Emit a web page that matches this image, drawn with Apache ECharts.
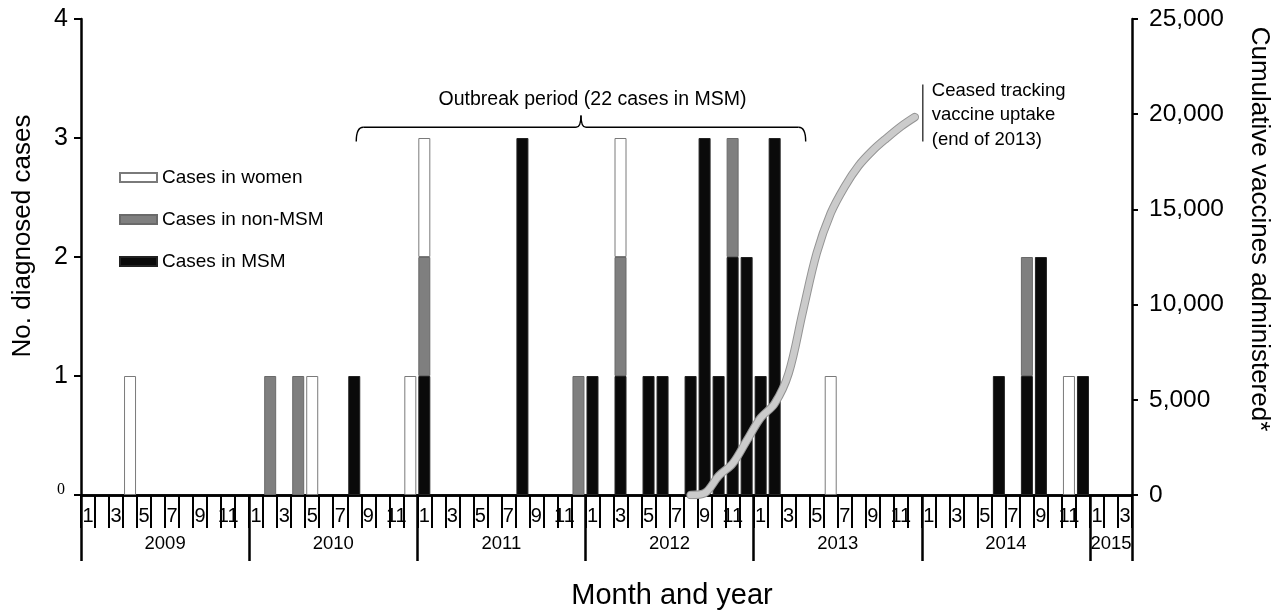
<!DOCTYPE html>
<html><head><meta charset="utf-8">
<script src="https://cdn.jsdelivr.net/npm/echarts@6/dist/echarts.min.js"></script>
<style>html,body{margin:0;padding:0;background:#fff}#c{width:1286px;height:611px}</style>
</head><body><div id="c"></div>
<script>
const years = ['2009','2010','2011','2012','2013','2014','2015'];
const monthsInYear = [12,12,12,12,12,12,3];
const casesTicks = [0,1,2,3,4];
const vaccineTicks = [0,5000,10000,15000,20000,25000];

// Cases per month, Jan 2009 .. Mar 2015
const casesMSM = [
 0,0,0,0,0,0,0,0,0,0,0,0,
 0,0,0,0,0,0,0,1,0,0,0,0,
 1,0,0,0,0,0,0,3,0,0,0,0,
 1,0,1,0,1,1,0,1,3,1,2,2,
 1,3,0,0,0,0,0,0,0,0,0,0,
 0,0,0,0,0,1,0,1,2,0,0,1,
 0,0,0
];
const casesNonMSM = [
 0,0,0,0,0,0,0,0,0,0,0,0,
 0,1,0,1,0,0,0,0,0,0,0,0,
 1,0,0,0,0,0,0,0,0,0,0,1,
 0,0,1,0,0,0,0,0,0,0,1,0,
 0,0,0,0,0,0,0,0,0,0,0,0,
 0,0,0,0,0,0,0,1,0,0,0,0,
 0,0,0
];
const casesWomen = [
 0,0,0,1,0,0,0,0,0,0,0,0,
 0,0,0,0,1,0,0,0,0,0,0,1,
 1,0,0,0,0,0,0,0,0,0,0,0,
 0,0,1,0,0,0,0,0,0,0,0,0,
 0,0,0,0,0,1,0,0,0,0,0,0,
 0,0,0,0,0,0,0,0,0,0,1,0,
 0,0,0
];
const N = null;
// Cumulative vaccines administered (tracked Aug 2012 .. Dec 2013)
const vaccines = [
 N,N,N,N,N,N,N,N,N,N,N,N,
 N,N,N,N,N,N,N,N,N,N,N,N,
 N,N,N,N,N,N,N,N,N,N,N,N,
 N,N,N,N,N,N,N,0,100,1000,1650,2850,
 4050,4800,6400,9600,12700,14800,16200,17300,18100,18750,19350,19850,
 N,N,N,N,N,N,N,N,N,N,N,N,
 N,N,N
];
const outbreakStartIdx = 19; // Aug 2010
const outbreakEndIdx = 51;   // Apr 2013
const outbreakLabel = 'Outbreak period (22 cases in MSM)';
const ceasedLabel = 'Ceased tracking\nvaccine uptake\n(end of 2013)';

const categories = [];
years.forEach((y, i) => { for (let m = 1; m <= monthsInYear[i]; m++) categories.push(y + '-' + m); });
const nz = a => a.map(v => v ? v : '-');

const FONT = 'Liberation Sans, Arial, sans-serif';
const chart = echarts.init(document.getElementById('c'));
const axisLine = {show: true, lineStyle: {color: '#000', width: 2.5}};

chart.setOption({
  animation: false,
  textStyle: {fontFamily: FONT, color: '#000'},
  grid: {left: 81, right: 154, top: 19, bottom: 116, containLabel: false, outerBoundsMode: 'none'},
  legend: {
    data: ['Cases in women', 'Cases in non-MSM', 'Cases in MSM'],
    orient: 'vertical', left: 119, top: 168, padding: 0,
    itemWidth: 37, itemHeight: 9, itemGap: 23, icon: 'rect',
    textStyle: {fontSize: 19, color: '#000', fontFamily: FONT}
  },
  xAxis: [{
    type: 'category', data: categories, boundaryGap: true, gridIndex: 0, position: 'bottom',
    axisLine: axisLine,
    axisTick: {show: true, interval: 0, length: 33, lineStyle: {color: '#000', width: 2}},
    axisLabel: {
      interval: 0, margin: 11, fontSize: 20, color: '#000', fontFamily: FONT,
      formatter: v => { const m = +v.split('-')[1]; return m % 2 === 1 ? String(m) : ''; }
    },
    splitLine: {show: false}
  }, {
    type: 'category', data: categories, boundaryGap: true, gridIndex: 0, position: 'bottom',
    axisLine: axisLine,
    axisTick: {show: true, length: 66, lineStyle: {color: '#000', width: 2.5},
      interval: (i, v) => +v.split('-')[1] === 1},
    axisLabel: {
      interval: 0, margin: 39, fontSize: 18.5, color: '#000', fontFamily: FONT,
      formatter: v => {
        const [y, mm] = v.split('-'); const m = +mm;
        const n = monthsInYear[years.indexOf(y)];
        if (n === 12 && m === 7) return '{a|' + y + '}';
        if (n === 3 && m === 2) return '{b|' + y + '}';
        return '';
      },
      rich: {a: {fontSize: 18.5, padding: [0, 14, 0, 0], fontFamily: FONT}, b: {fontSize: 18.5, fontFamily: FONT}}
    },
    name: 'Month and year', nameLocation: 'middle', nameGap: 86,
    nameTextStyle: {fontSize: 29, color: '#000', fontFamily: FONT, padding: [0, 0, 0, 131]}
  }],
  yAxis: [{
    type: 'value', min: 0, max: 4, interval: 1, position: 'left',
    axisLine: axisLine,
    axisTick: {show: true, length: 7, lineStyle: {color: '#000', width: 2}},
    splitLine: {show: false},
    axisLabel: {
      margin: 13, fontSize: 25, color: '#000', fontFamily: FONT,
      formatter: v => v === 0 ? '{z|0}' : String(v),
      rich: {z: {fontFamily: 'Liberation Serif', fontSize: 16, padding: [0, 3, 10, 0]}}
    },
    name: 'No. diagnosed cases', nameLocation: 'middle', nameGap: 45,
    nameTextStyle: {fontSize: 26, color: '#000', fontFamily: FONT, padding: [0, 0, 0, 42]}
  }, {
    type: 'value', min: 0, max: 25000, interval: 5000, position: 'right',
    axisLine: axisLine,
    axisTick: {show: true, length: 6, lineStyle: {color: '#000', width: 2}},
    splitLine: {show: false},
    axisLabel: {margin: 17, fontSize: 24.5, color: '#000', fontFamily: FONT,
      formatter: v => v.toLocaleString('en-US')},
    name: 'Cumulative vaccines administered*', nameLocation: 'middle', nameGap: 114, nameRotate: -90,
    nameTextStyle: {fontSize: 26, color: '#000', fontFamily: FONT, padding: [0, 56, 0, 0]}
  }],
  series: [{
    name: 'Cases in MSM', type: 'bar', stack: 'c', xAxisIndex: 0, yAxisIndex: 0,
    data: nz(casesMSM), barWidth: 12,
    itemStyle: {color: '#0a0a0a', borderColor: '#222', borderWidth: 1}
  }, {
    name: 'Cases in non-MSM', type: 'bar', stack: 'c', xAxisIndex: 0, yAxisIndex: 0,
    data: nz(casesNonMSM), barWidth: 12,
    itemStyle: {color: '#7f7f7f', borderColor: '#6a6a6a', borderWidth: 1}
  }, {
    name: 'Cases in women', type: 'bar', stack: 'c', xAxisIndex: 0, yAxisIndex: 0,
    data: nz(casesWomen), barWidth: 12,
    itemStyle: {color: '#ffffff', borderColor: '#7a7a7a', borderWidth: 1}
  }, {
    name: 'vaccOutline', type: 'line', xAxisIndex: 0, yAxisIndex: 1, data: vaccines,
    smooth: 0.35, symbol: 'none', z: 5, silent: true,
    lineStyle: {color: '#949494', width: 8.5, cap: 'round', join: 'round'}
  }, {
    name: 'vacc', type: 'line', xAxisIndex: 0, yAxisIndex: 1, data: vaccines,
    smooth: 0.35, symbol: 'none', z: 6, silent: true,
    lineStyle: {color: '#cbcbcb', width: 6.5, cap: 'round', join: 'round'}
  }]
});

const p = (i, v) => chart.convertToPixel({xAxisIndex: 0, yAxisIndex: 0}, [i, v]);
const band = p(1, 0)[0] - p(0, 0)[0];
const xL = p(outbreakStartIdx, 0)[0] + 2, xR = p(outbreakEndIdx, 0)[0] + 3;
const xC = (xL + xR) / 2;
const yH = p(0, 3.09)[1], yTip = p(0, 2.97)[1], yPk = p(0, 3.19)[1];
const braceStyle = {stroke: '#000', lineWidth: 1.4, fill: null};
const xV = p(59, 0)[0] + band / 2 + 1;
chart.setOption({
  graphic: [
    {type: 'bezierCurve', shape: {x1: xL, y1: yTip, cpx1: xL, cpy1: yH, x2: xL + 7, y2: yH}, style: braceStyle},
    {type: 'line', shape: {x1: xL + 7, y1: yH, x2: xC - 5, y2: yH}, style: braceStyle},
    {type: 'bezierCurve', shape: {x1: xC - 5, y1: yH, cpx1: xC, cpy1: yH, x2: xC, y2: yPk}, style: braceStyle},
    {type: 'bezierCurve', shape: {x1: xC, y1: yPk, cpx1: xC, cpy1: yH, x2: xC + 5, y2: yH}, style: braceStyle},
    {type: 'line', shape: {x1: xC + 5, y1: yH, x2: xR - 7, y2: yH}, style: braceStyle},
    {type: 'bezierCurve', shape: {x1: xR - 7, y1: yH, cpx1: xR, cpy1: yH, x2: xR, y2: yTip}, style: braceStyle},
    {type: 'text', x: p(36, 0)[0], y: p(0, 3.32)[1],
      style: {text: outbreakLabel, fontSize: 19.5, fontFamily: FONT, fill: '#000', align: 'center', verticalAlign: 'middle'}},
    {type: 'line', shape: {x1: xV, y1: p(0, 3.45)[1], x2: xV, y2: p(0, 2.97)[1]}, style: {stroke: '#333', lineWidth: 1.4}},
    {type: 'text', x: xV + 9, y: p(0, 3.50)[1],
      style: {text: ceasedLabel, fontSize: 18.5, lineHeight: 24.5, fontFamily: FONT, fill: '#000', align: 'left', verticalAlign: 'top'}}
  ]
});
</script>
</body></html>
